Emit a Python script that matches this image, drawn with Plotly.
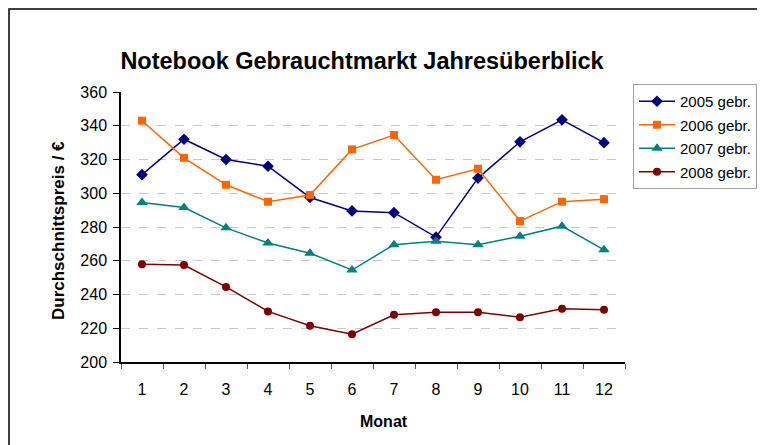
import plotly.graph_objects as go

months = [str(m) for m in range(1, 13)]

preis_2005 = [311, 332, 320, 316, 297.5, 289.5, 288.5, 274, 309, 330.5, 343.5, 330]
preis_2006 = [343, 321, 305, 295, 299, 326, 334.5, 308, 314.5, 283.5, 295, 296.5]
preis_2007 = [294.5, 291.5, 279.5, 270.5, 264.5, 254.5, 269.5, 271.5, 269.5, 274.5, 280.5, 266.5]
preis_2008 = [258, 257.5, 244.5, 230, 221.5, 216.5, 228, 229.5, 229.5, 226.5, 231.5, 231]

series = [
    ("2005 gebr.", preis_2005, "#000080", "diamond", 9),
    ("2006 gebr.", preis_2006, "#FF6600", "square", 8),
    ("2007 gebr.", preis_2007, "#008080", "triangle-up", 10),
    ("2008 gebr.", preis_2008, "#800000", "circle", 8),
]

FONT = "Liberation Sans, Arial, sans-serif"
PAGE_OFFSET = 8  # the page body adds 8 px margin left/top

fig = go.Figure()
for i, (name, values, color, symbol, size) in enumerate(series):
    fig.add_trace(go.Scatter(
        x=months,
        y=values,
        name=name,
        legendgroup=str(i),
        mode="lines+markers",
        line=dict(color=color, width=1.5),
        marker=dict(symbol=symbol, size=size, color=color),
    ))

# plot area on screen: x 121..625, y 92..362 (pixels)
def px_x(px):
    return (px - 121) / 504


def px_y(py):
    return (362 - py) / 270


fig.update_layout(
    width=765,
    height=445,
    margin=dict(l=121 - PAGE_OFFSET, r=765 - 625 + PAGE_OFFSET,
                t=92 - PAGE_OFFSET, b=445 - 362 + PAGE_OFFSET),
    paper_bgcolor="white",
    plot_bgcolor="white",
    font=dict(family=FONT, size=16, color="black"),
    title=dict(
        text="<b>Notebook Gebrauchtmarkt Jahresüberblick</b>",
        x=(362 - PAGE_OFFSET) / 765, xanchor="center",
        y=1 - (61 - PAGE_OFFSET) / 445, yanchor="middle",
        font=dict(size=23.5, family=FONT, color="black"),
    ),
    xaxis=dict(
        type="category",
        range=[-0.5, 11.5],
        tickson="boundaries",
        ticks="outside",
        ticklen=5,
        tickcolor="#555555",
        ticklabelstandoff=12,
        showline=True,
        linecolor="black",
        linewidth=1.5,
        showgrid=False,
        zeroline=False,
        tickfont=dict(size=16),
    ),
    yaxis=dict(
        range=[200, 360],
        dtick=20,
        ticks="outside",
        ticklen=6,
        tickcolor="black",
        ticklabelstandoff=3,
        showline=True,
        linecolor="black",
        linewidth=1.5,
        showgrid=True,
        gridcolor="#C8C8C8",
        griddash="dash",
        zeroline=False,
        tickfont=dict(size=16),
    ),
    legend=dict(
        x=px_x(633), y=px_y(84),
        xanchor="left", yanchor="top",
        bgcolor="white",
        bordercolor="#A0A0A0",
        borderwidth=1,
        font=dict(size=15, family=FONT),
        traceorder="grouped",
        tracegroupgap=1,
        itemwidth=36,
    ),
    annotations=[
        dict(
            text="<b>Durchschnittspreis / €</b>",
            xref="paper", yref="paper",
            x=px_x(58), y=px_y(231),
            xanchor="center", yanchor="middle",
            textangle=-90, showarrow=False,
            font=dict(size=17, family=FONT),
        ),
        dict(
            text="<b>Monat</b>",
            xref="paper", yref="paper",
            x=px_x(384), y=px_y(421),
            xanchor="center", yanchor="middle",
            showarrow=False,
            font=dict(size=16, family=FONT),
        ),
    ],
    shapes=[
        dict(
            type="rect",
            xref="paper", yref="paper",
            x0=px_x(9), x1=px_x(790),
            y0=px_y(470), y1=px_y(9),
            line=dict(color="black", width=1.5),
            layer="below",
        ),
    ],
)

fig.write_html("out.html")
